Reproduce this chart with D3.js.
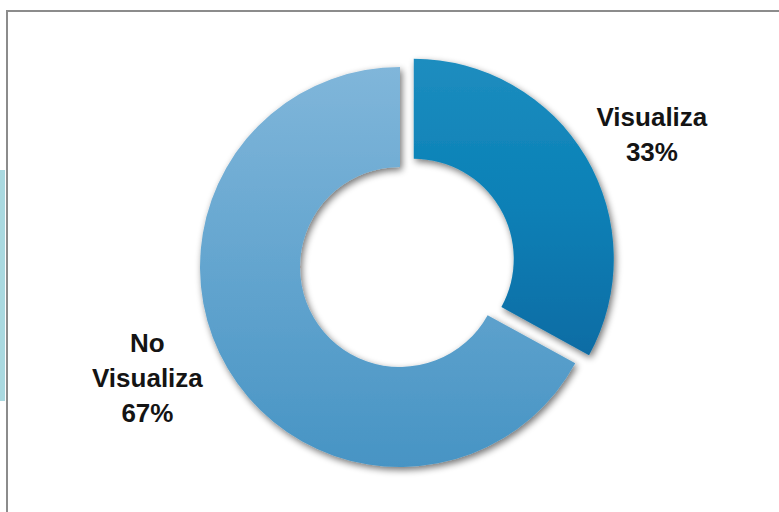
<!DOCTYPE html>
<html>
<head>
<meta charset="utf-8">
<script src="https://cdn.jsdelivr.net/npm/d3@7"></script>
<style>
  html, body { margin: 0; padding: 0; background: #fff; }
  svg { display: block; }
  .lbl { font-family: "Liberation Sans Narrow", "Liberation Sans", Arial, sans-serif; font-weight: bold; font-size: 26px; fill: #141414; }
</style>
</head>
<body>
<svg id="chart" width="779" height="512"></svg>
<script>
// ---- data ----
const categories = ["Visualiza", "No Visualiza"];
const values = [33, 67];
const labelLines = [["Visualiza", "33%"], ["No", "Visualiza", "67%"]];
const colorsTop = ["#1e8dbf", "#80b6da"];
const colorsBottom = ["#0a6ca4", "#4794c4"];

// ---- layout ----
const W = 779, H = 512;
const cx = 400, cy = 267, outerR = 200, innerR = 100, explode = 16;
const svg = d3.select("#chart");

// frame
svg.append("rect").attr("x", 0).attr("y", 170).attr("width", 5).attr("height", 231).attr("fill", "#aad9e0");
svg.append("line").attr("x1", 7).attr("y1", 11).attr("x2", W).attr("y2", 11).attr("stroke", "#8c8c8c").attr("stroke-width", 2);
svg.append("line").attr("x1", 7).attr("y1", 10).attr("x2", 7).attr("y2", H).attr("stroke", "#8c8c8c").attr("stroke-width", 2);

const defs = svg.append("defs");
const filt = defs.append("filter").attr("id", "shadow").attr("x", "-20%").attr("y", "-20%").attr("width", "140%").attr("height", "140%");
filt.append("feGaussianBlur").attr("in", "SourceAlpha").attr("stdDeviation", 3.5);
filt.append("feOffset").attr("dx", 1.5).attr("dy", 3).attr("result", "ob");
filt.append("feComponentTransfer").append("feFuncA").attr("type", "linear").attr("slope", 0.55);
const merge = filt.append("feMerge");
merge.append("feMergeNode");
merge.append("feMergeNode").attr("in", "SourceGraphic");

categories.forEach((c, i) => {
  const g = defs.append("linearGradient").attr("id", "grad" + i).attr("x1", 0).attr("y1", 0).attr("x2", 0).attr("y2", 1);
  g.append("stop").attr("offset", "0%").attr("stop-color", colorsTop[i]);
  if (i === 0) g.append("stop").attr("offset", "50%").attr("stop-color", "#0880b6");
  g.append("stop").attr("offset", "100%").attr("stop-color", colorsBottom[i]);
});

const pie = d3.pie().sort(null).value(d => d);
const arcs = pie(values);
const arc = d3.arc().innerRadius(innerR).outerRadius(outerR);

const gChart = svg.append("g").attr("transform", `translate(${cx},${cy})`);
gChart.selectAll("path").data(arcs).enter().append("path")
  .attr("d", arc)
  .attr("fill", (d, i) => `url(#grad${i})`)
  .attr("filter", "url(#shadow)")
  .attr("transform", (d, i) => {
    if (i !== 0) return null;
    const a = (d.startAngle + d.endAngle) / 2;
    return `translate(${Math.sin(a) * explode},${-Math.cos(a) * explode})`;
  });

// labels (placed outside the ring, Excel-style)
const labelAngle = [Math.PI * 0.3457, Math.PI * 1.368];
const labelRadius = [284.7, 276];
const lineH = 35;
arcs.forEach((d, i) => {
  const lx = Math.sin(labelAngle[i]) * labelRadius[i];
  const ly = -Math.cos(labelAngle[i]) * labelRadius[i];
  const lines = labelLines[i];
  const t = gChart.append("text").attr("class", "lbl").attr("text-anchor", "middle")
    .attr("x", lx).attr("y", ly - (lines.length - 1) * lineH / 2 + 9);
  lines.forEach((s, k) => {
    t.append("tspan").attr("x", lx).attr("dy", k === 0 ? 0 : lineH).text(s);
  });
});
</script>
</body>
</html>
